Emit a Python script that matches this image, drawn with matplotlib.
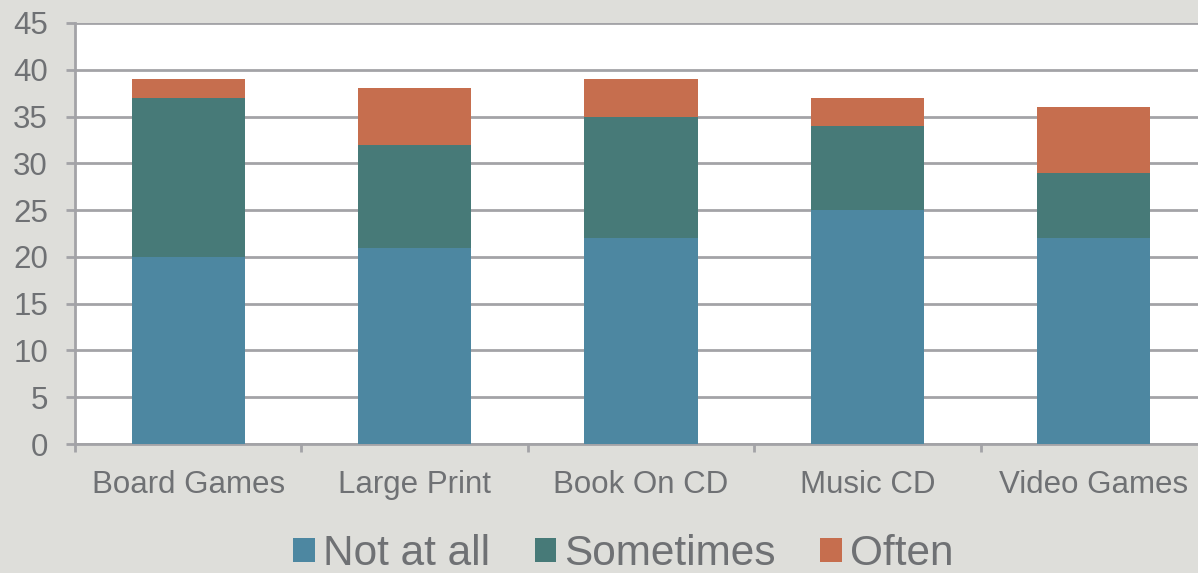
import matplotlib
matplotlib.use('Agg')
import matplotlib.pyplot as plt
import numpy as np

categories = ['Board Games', 'Large Print', 'Book On CD', 'Music CD', 'Video Games']
not_at_all = [20, 21, 22, 25, 22]
sometimes = [17, 11, 13, 9, 7]
often = [2, 6, 4, 3, 7]

c_not = '#4d87a1'
c_some = '#477a78'
c_often = '#c66e4e'
bg = '#dededa'
grid_c = '#a3a3a7'
text_c = '#6f7174'

plt.rcParams['font.family'] = ['Liberation Sans', 'DejaVu Sans']

W, H = 1198, 573
fig = plt.figure(figsize=(W / 100, H / 100), dpi=100, facecolor=bg)
ax = fig.add_axes([75 / W, (H - 444) / H, 1132 / W, 421 / H])
ax.set_facecolor('white')

x = np.arange(len(categories))
b1 = np.array(not_at_all)
b2 = b1 + np.array(sometimes)
ax.bar(x, not_at_all, width=0.5, color=c_not, label='Not at all', zorder=3)
ax.bar(x, sometimes, width=0.5, bottom=b1, color=c_some, label='Sometimes', zorder=3)
ax.bar(x, often, width=0.5, bottom=b2, color=c_often, label='Often', zorder=3)

ax.set_xlim(-0.5, 4.5)
ax.set_ylim(0, 45)
ax.set_yticks(np.arange(0, 46, 5))
ax.yaxis.grid(True, color=grid_c, linewidth=2, zorder=1)
ax.set_axisbelow(True)

# category ticks at boundaries, labels centred
ax.set_xticks(np.arange(-0.5, 5, 1))
ax.set_xticklabels([])
ax.set_xticks(x, minor=True)
ax.set_xticklabels(categories, minor=True)
ax.tick_params(axis='x', which='minor', length=0, labelsize=22.5, colors=text_c, pad=19)
ax.tick_params(axis='x', which='major', length=6, width=2, color=grid_c)
ax.tick_params(axis='y', length=6.5, width=2, color=grid_c, labelsize=22.5,
               labelcolor=text_c, pad=13)

for s in ['top', 'right']:
    ax.spines[s].set_visible(False)
for s in ['left', 'bottom']:
    ax.spines[s].set_color(grid_c)
    ax.spines[s].set_linewidth(2)

fig.legend(loc='center', bbox_to_anchor=(623.5 / W, 1 - 554 / H), ncol=3,
           frameon=False, fontsize=30.5, labelcolor=text_c,
           handlelength=0.5, handleheight=0.5, handletextpad=0.2,
           columnspacing=1.05, borderpad=0, borderaxespad=0)

fig.savefig('out.png', dpi=100, facecolor=bg)
